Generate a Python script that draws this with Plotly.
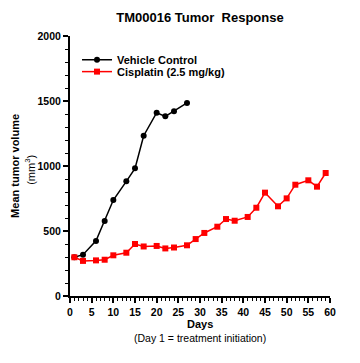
import plotly.graph_objects as go

veh_days = [1, 3, 6, 8, 10, 13, 15, 17, 20, 22, 24, 27]
veh_vol = [298, 318, 424, 577, 738, 882, 982, 1233, 1410, 1382, 1421, 1485]

cis_days = [1, 3, 6, 8, 10, 13, 15, 17, 20, 22, 24, 27, 29, 31, 34, 36, 38, 41, 43, 45, 48, 50, 52, 55, 57, 59]
cis_vol = [298, 270, 274, 279, 313, 333, 400, 381, 385, 366, 373, 390, 438, 485, 533, 592, 579, 608, 679, 795, 690, 751, 856, 890, 841, 946]

FONT = "Liberation Sans, Arial, sans-serif"

fig = go.Figure()
fig.add_trace(go.Scatter(x=veh_days, y=veh_vol, mode="lines+markers", name="<b>Vehicle Control</b>",
                         legend="legend",
                         line=dict(color="black", width=1.5),
                         marker=dict(symbol="circle", size=6, color="black")))
fig.add_trace(go.Scatter(x=cis_days, y=cis_vol, mode="lines+markers", name="<b>Cisplatin (2.5 mg/kg)</b>",
                         legend="legend2",
                         line=dict(color="#ff0000", width=1.5),
                         marker=dict(symbol="square", size=6, color="#ff0000")))

leg_common = dict(xanchor="left", yanchor="middle", bgcolor="rgba(0,0,0,0)",
                  font=dict(size=11, family=FONT, color="black"), itemwidth=30)

fig.update_layout(
    width=360, height=363,
    margin=dict(l=62, r=38, t=28, b=75),
    paper_bgcolor="white", plot_bgcolor="white",
    font=dict(family=FONT, color="black", size=10),
    showlegend=True,
    legend=dict(x=0.027, y=0.909, **leg_common),
    legend2=dict(x=0.027, y=0.863, **leg_common),
    title=dict(text="<b>TM00016 Tumor\u00a0 Response</b>", x=0.5, xref="paper", xanchor="center",
               y=0.975, yref="container", yanchor="middle",
               font=dict(size=13, family=FONT)),
    xaxis=dict(range=[0, 60], showgrid=False, zeroline=False, showline=True, linecolor="black", linewidth=2,
               ticks="outside", tickwidth=1.5, ticklen=5, tickcolor="black", dtick=5, tick0=0,
               tickfont=dict(size=10.5, family=FONT), tickprefix="<b>", ticksuffix="</b>",
               minor=dict(ticks="outside", dtick=1, ticklen=3, tickwidth=1, tickcolor="black")),
    yaxis=dict(range=[0, 2000], showgrid=False, zeroline=False, showline=True, linecolor="black", linewidth=2,
               ticks="outside", tickwidth=1.5, ticklen=5, tickcolor="black", dtick=500, tick0=0,
               tickfont=dict(size=10.5, family=FONT), tickprefix="<b>", ticksuffix="</b>",
               minor=dict(ticks="outside", dtick=100, ticklen=3, tickwidth=1, tickcolor="black")),
    annotations=[
        dict(text="<b>Mean tumor volume</b>", textangle=-90, xref="paper", yref="paper",
             x=-0.212, y=0.5, xanchor="center", yanchor="middle", showarrow=False,
             font=dict(size=11, family=FONT)),
        dict(text="(mm<sup>3</sup>)", textangle=-90, xref="paper", yref="paper",
             x=-0.154, y=0.485, xanchor="center", yanchor="middle", showarrow=False,
             font=dict(size=11, family=FONT)),
        dict(text="<b>Days</b>", xref="paper", yref="paper",
             x=0.5, y=-0.108, xanchor="center", yanchor="middle", showarrow=False,
             font=dict(size=11, family=FONT)),
        dict(text="(Day 1 = treatment initiation)", xref="paper", yref="paper",
             x=0.5, y=-0.16, xanchor="center", yanchor="middle", showarrow=False,
             font=dict(size=10.5, family=FONT)),
    ],
)

fig.write_html("out.html")
